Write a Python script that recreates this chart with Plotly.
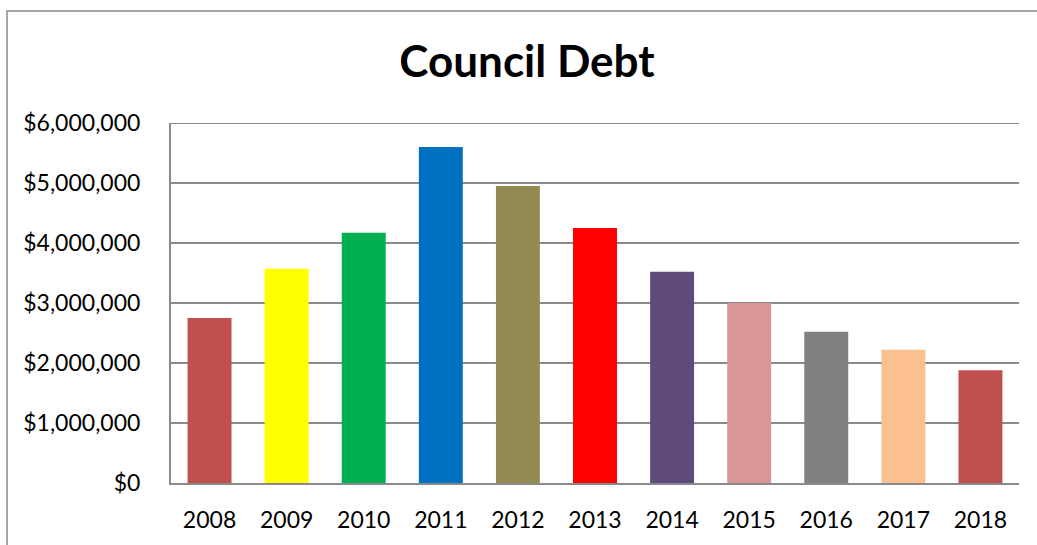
import plotly.graph_objects as go

years = ["2008", "2009", "2010", "2011", "2012", "2013", "2014", "2015", "2016", "2017", "2018"]
debt = [2750000, 3570000, 4170000, 5600000, 4950000, 4250000, 3520000, 3000000, 2520000, 2220000, 1880000]
colors = ["#C0504D", "#FFFF00", "#00B050", "#0070C0", "#948A54", "#FF0000",
          "#604A7B", "#D99694", "#808080", "#FAC090", "#C0504D"]
y_ticks = [0, 1000000, 2000000, 3000000, 4000000, 5000000, 6000000]
y_labels = ["$0", "$1,000,000", "$2,000,000", "$3,000,000", "$4,000,000", "$5,000,000", "$6,000,000"]

W, H = 1037, 545
L, R, T, B = 171, 18, 123, 62

fig = go.Figure(go.Bar(x=years, y=debt, marker=dict(color=colors, line=dict(width=0)), width=0.57))

pw, ph = W - L - R, H - T - B
fig.add_shape(type="rect", xref="paper", yref="paper",
              x0=(7 - L) / pw, x1=1.2, y0=-0.5, y1=(H - B - 11) / ph,
              line=dict(color="#8a8a8a", width=1.5), fillcolor="rgba(0,0,0,0)", layer="below")
fig.add_shape(type="line", xref="paper", yref="y", x0=0, x1=1, y0=y_ticks[-1], y1=y_ticks[-1],
              line=dict(color="#8a8a8a", width=2), layer="below")

fig.update_layout(
    width=W, height=H,
    margin=dict(l=L, r=R, t=T, b=B),
    paper_bgcolor="white", plot_bgcolor="white",
    font=dict(family="Lato, Noto Sans, sans-serif", color="black", size=23),
    title=dict(text="<b>Council Debt</b>", x=527 / W, xanchor="center", xref="container",
               y=1 - 62 / H, yanchor="middle", yref="container",
               font=dict(size=44, family="Lato, Noto Sans, sans-serif", color="black")),
    showlegend=False, bargap=0.43,
    xaxis=dict(showgrid=False, showline=True, linecolor="#8a8a8a", linewidth=2,
               ticks="", ticklabelstandoff=15, tickfont=dict(size=23)),
    yaxis=dict(range=[0, 6000000], tickvals=y_ticks, ticktext=y_labels,
               showgrid=True, gridcolor="#8a8a8a", gridwidth=2,
               showline=True, linecolor="#8a8a8a", linewidth=2,
               zeroline=False, ticks="", ticklabelstandoff=24, tickfont=dict(size=23)),
)

fig.write_html("out.html")
